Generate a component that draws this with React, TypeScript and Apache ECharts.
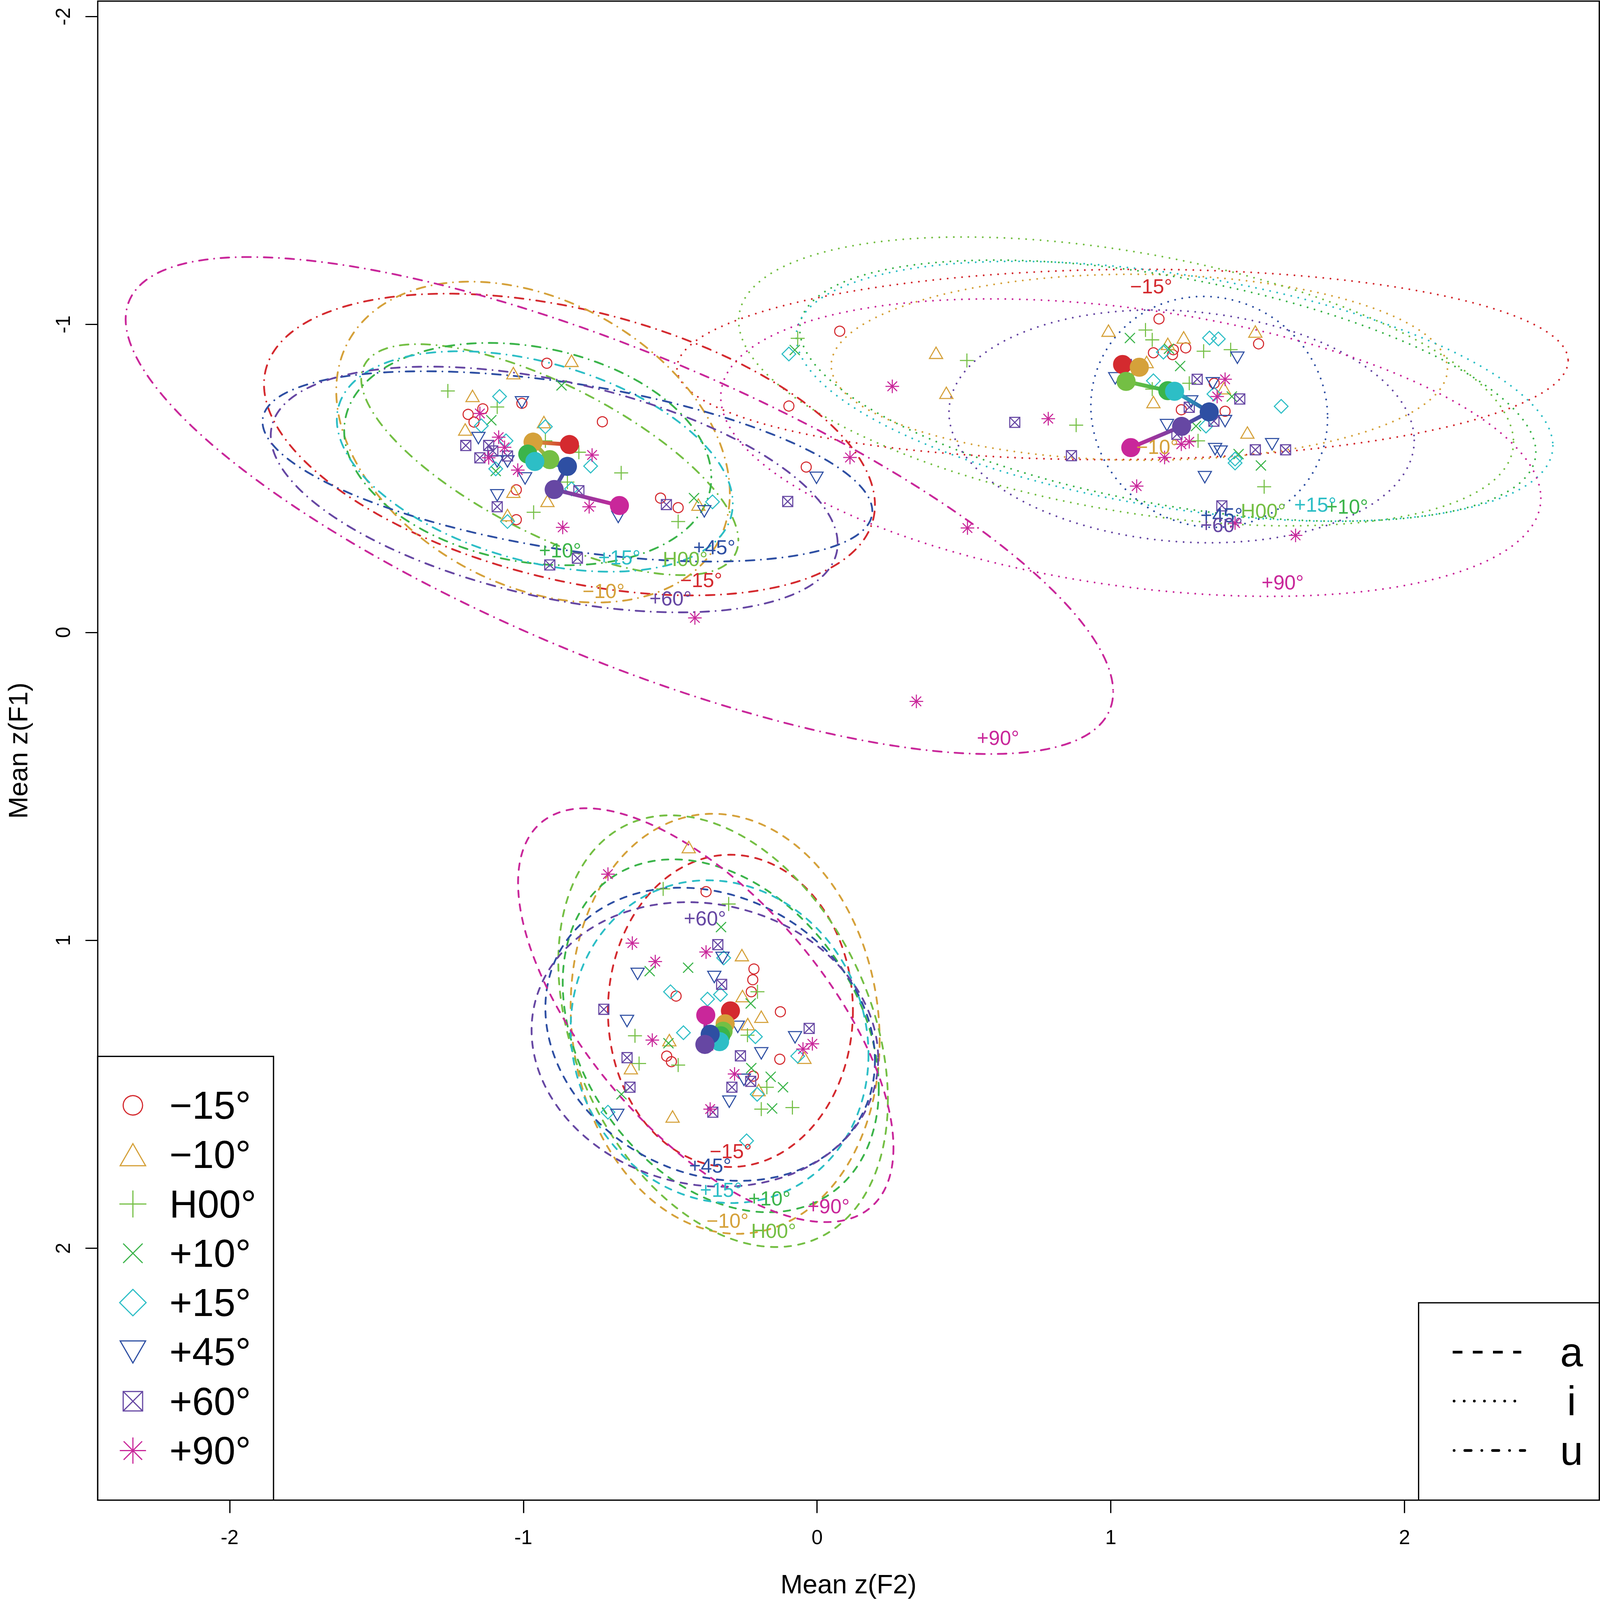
import React, { useEffect, useRef } from 'react';
import * as echarts from 'echarts';

// ---------- categories / styling keys ----------
const conditions = ['−15°', '−10°', 'H00°', '+10°', '+15°', '+45°', '+60°', '+90°'];
const colors = ['#D42A2F', '#D5A13A', '#74BF44', '#3BB44A', '#2DBEC6', '#2E4FA3', '#6647A3', '#C9279A'];
const symbolKinds = ['circle', 'triangle', 'plus', 'cross', 'diamond', 'nabla', 'boxcross', 'asterisk'];
const vowels = ['a', 'i', 'u'];
const xTicks = [-2, -1, 0, 1, 2];
const yTicks = [-2, -1, 0, 1, 2];
const xRange = [-2.449, 2.663];
const yRange = [-2.05, 2.818];

// ---------- individual tokens: vowel a ----------
const aM15 = [[-0.378, 0.842], [-0.215, 1.093], [-0.219, 1.128], [-0.224, 1.167], [-0.48, 1.181], [-0.125, 1.232], [-0.512, 1.376], [-0.496, 1.394], [-0.127, 1.386], [-0.217, 1.441]];
const aM10 = [[-0.437, 0.697], [-0.256, 1.048], [-0.254, 1.181], [-0.19, 1.248], [-0.236, 1.272], [-0.503, 1.324], [-0.634, 1.415], [-0.043, 1.381], [-0.199, 1.486], [-0.492, 1.572]];
const aH00 = [[-0.524, 0.833], [-0.301, 0.882], [-0.203, 1.167], [-0.62, 1.31], [-0.606, 1.4], [-0.473, 1.405], [-0.237, 1.308], [-0.171, 1.477], [-0.19, 1.548], [-0.084, 1.543]];
const aP10 = [[-0.327, 0.957], [-0.439, 1.089], [-0.57, 1.1], [-0.226, 1.205], [-0.506, 1.334], [-0.224, 1.415], [-0.158, 1.443], [-0.116, 1.477], [-0.666, 1.5], [-0.153, 1.546]];
const aP15 = [[-0.499, 1.167], [-0.373, 1.191], [-0.329, 1.176], [-0.455, 1.3], [-0.318, 1.057], [-0.21, 1.313], [-0.066, 1.376], [-0.204, 1.5], [-0.712, 1.558], [-0.24, 1.651]];
const aP45 = [[-0.322, 1.057], [-0.611, 1.109], [-0.35, 1.119], [-0.647, 1.262], [-0.27, 1.281], [-0.19, 1.367], [-0.075, 1.315], [-0.299, 1.524], [-0.68, 1.567], [-0.249, 1.453]];
const aP60 = [[-0.338, 1.014], [-0.325, 1.143], [-0.726, 1.224], [-0.027, 1.286], [-0.647, 1.381], [-0.261, 1.375], [-0.637, 1.477], [-0.226, 1.458], [-0.29, 1.477], [-0.355, 1.558]];
const aP90 = [[-0.712, 0.785], [-0.629, 1.009], [-0.551, 1.069], [-0.378, 1.038], [-0.561, 1.324], [-0.281, 1.434], [-0.364, 1.548], [-0.048, 1.353], [-0.016, 1.336], [-0.355, 1.336]];

// ---------- individual tokens: vowel i ----------
const iM15 = [[1.164, -1.018], [1.145, -0.908], [1.213, -0.918], [1.21, -0.902], [1.255, -0.924], [1.503, -0.937], [1.24, -0.723], [1.389, -0.718], [1.352, -0.809]];
const iM10 = [[0.992, -0.98], [1.194, -0.937], [1.248, -0.958], [1.122, -0.878], [1.145, -0.748], [1.492, -0.977], [1.465, -0.649], [1.385, -0.793], [0.405, -0.908], [0.44, -0.778]];
const iH00 = [[1.118, -0.982], [1.141, -0.95], [1.316, -0.913], [1.408, -0.918], [1.267, -0.809], [1.141, -0.79], [0.882, -0.673], [1.297, -0.622], [1.522, -0.473], [0.51, -0.883], [-0.066, -0.955]];
const iP10 = [[1.065, -0.956], [1.236, -0.865], [1.198, -0.921], [1.412, -0.766], [1.29, -0.67], [1.435, -0.579], [1.511, -0.542], [-0.076, -0.917]];
const iP15 = [[1.336, -0.956], [1.366, -0.953], [1.179, -0.91], [1.145, -0.817], [1.351, -0.774], [1.324, -0.67], [1.423, -0.563], [1.423, -0.55], [1.58, -0.734], [-0.096, -0.904]];
const iP45 = [[1.015, -0.825], [1.431, -0.892], [1.347, -0.809], [1.274, -0.75], [1.191, -0.673], [1.389, -0.686], [1.355, -0.595], [1.374, -0.587], [1.32, -0.504], [1.549, -0.611]];
const iP60 = [[1.053, -0.87], [1.294, -0.822], [1.267, -0.731], [1.439, -0.758], [1.351, -0.686], [1.225, -0.643], [1.492, -0.593], [1.595, -0.593], [0.866, -0.574], [0.673, -0.682], [1.378, -0.411]];
const iP90 = [[1.389, -0.822], [1.362, -0.766], [1.24, -0.611], [1.267, -0.619], [1.183, -0.568], [1.088, -0.475], [1.629, -0.315], [1.423, -0.355], [0.256, -0.799], [0.787, -0.694], [0.512, -0.339]];

// ---------- individual tokens: vowel u ----------
const uM15 = [[-0.92, -0.874], [-1.188, -0.708], [-1.138, -0.726], [-1.168, -0.683], [-1.005, -0.744], [-0.731, -0.684], [-1.024, -0.463], [-1.024, -0.366], [-0.533, -0.436], [-0.473, -0.405], [-0.096, -0.735], [-0.037, -0.537], [0.077, -0.978]];
const uM10 = [[-0.836, -0.882], [-1.034, -0.842], [-1.173, -0.768], [-1.198, -0.659], [-0.93, -0.683], [-1.034, -0.457], [-0.918, -0.427], [-1.054, -0.381], [-0.404, -0.415]];
const uH00 = [[-1.257, -0.784], [-1.089, -0.732], [-0.925, -0.622], [-0.811, -0.585], [-0.667, -0.518], [-0.85, -0.488], [-0.965, -0.39], [-0.473, -0.36]];
const uP10 = [[-1.109, -0.689], [-1.094, -0.524], [-0.87, -0.802], [-0.419, -0.436], [-0.979, -0.582]];
const uP15 = [[-1.081, -0.766], [-0.925, -0.668], [-1.059, -0.622], [-1.143, -0.671], [-0.771, -0.54], [-1.094, -0.531], [-0.836, -0.466], [-1.054, -0.36], [-0.356, -0.424]];
const uP45 = [[-1.005, -0.747], [-1.153, -0.631], [-1.089, -0.555], [-1.054, -0.555], [-0.994, -0.5], [-1.089, -0.445], [-0.677, -0.375], [-0.384, -0.393], [-0.002, -0.502]];
const uP60 = [[-1.196, -0.607], [-1.118, -0.607], [-1.104, -0.589], [-1.148, -0.567], [-1.054, -0.573], [-1.089, -0.408], [-0.811, -0.46], [-0.513, -0.415], [-0.91, -0.219], [-0.816, -0.241], [-0.1, -0.425]];
const uP90 = [[-1.148, -0.711], [-1.084, -0.634], [-1.064, -0.601], [-1.118, -0.567], [-1.019, -0.527], [-0.766, -0.576], [-0.776, -0.408], [-0.866, -0.341], [0.112, -0.568], [0.338, 0.224], [-0.416, -0.047]];

// ---------- condition means (ellipse centres) ----------
const meansA = [[-0.295, 1.229], [-0.313, 1.271], [-0.32, 1.295], [-0.328, 1.31], [-0.332, 1.329], [-0.364, 1.305], [-0.382, 1.338], [-0.379, 1.243]];
const meansI = [[1.04, -0.87], [1.097, -0.861], [1.052, -0.815], [1.194, -0.785], [1.217, -0.783], [1.335, -0.716], [1.241, -0.669], [1.068, -0.6]];
const meansU = [[-0.843, -0.61], [-0.967, -0.618], [-0.91, -0.561], [-0.985, -0.579], [-0.961, -0.555], [-0.85, -0.539], [-0.895, -0.464], [-0.673, -0.412]];

// ---------- ellipse extents: [half-width F2, half-height F1, correlation] ----------
const ellA = [[0.417, 0.507, 0.0], [0.526, 0.682, 0.08], [0.561, 0.701, 0.32], [0.538, 0.573, 0.3], [0.507, 0.524, 0.08], [0.561, 0.476, 0.18], [0.59, 0.462, 0.1], [0.639, 0.672, 0.64]];
const ellI = [[1.517, 0.309, -0.04], [1.049, 0.302, 0.02], [1.319, 0.469, 0.42], [1.253, 0.424, 0.47], [1.288, 0.422, 0.42], [0.403, 0.375, 0.05], [0.792, 0.378, 0.12], [1.396, 0.483, 0.34]];
const ellU = [[1.04, 0.49, 0.4], [0.67, 0.521, 0.32], [0.642, 0.375, 0.7], [0.625, 0.361, 0.21], [0.674, 0.358, 0.38], [1.038, 0.309, 0.47], [0.965, 0.399, 0.44], [1.681, 0.807, 0.75]];

// ---------- ellipse label positions ----------
const labA = [[-0.294, 1.685], [-0.305, 1.911], [-0.148, 1.944], [-0.162, 1.838], [-0.327, 1.81], [-0.364, 1.731], [-0.382, 0.928], [0.039, 1.863]];
const labI = [[1.137, -1.124], [1.158, -0.603], [1.519, -0.394], [1.804, -0.408], [1.696, -0.415], [1.377, -0.381], [1.377, -0.349], [1.585, -0.162]];
const labU = [[-0.395, -0.17], [-0.727, -0.134], [-0.449, -0.238], [-0.875, -0.266], [-0.673, -0.244], [-0.35, -0.276], [-0.499, -0.11], [0.616, 0.342]];

// ---------- layout (designed for 4551 x 4344, scaled to the real viewport) ----------
const REF_W = 4551;
const REF_H = 4344;
const FONT = '"Liberation Sans", Arial, Helvetica, sans-serif';

type Sc = { x: (v: number) => number; y: (v: number) => number; f: (v: number) => number };

function symbolShapes(kind: string, cx: number, cy: number, r: number, color: string, lw: number, z?: number): any[] {
  const zz = z === undefined ? {} : { z };
  const st = { fill: 'none', stroke: color, lineWidth: lw };
  const line = (x1: number, y1: number, x2: number, y2: number) => ({
    type: 'line',
    ...zz,
    shape: { x1, y1, x2, y2 },
    style: { stroke: color, lineWidth: lw },
  });
  switch (kind) {
    case 'circle':
      return [{ type: 'circle', ...zz, shape: { cx, cy, r }, style: st }];
    case 'triangle': {
      const w = 1.31 * r, h = 1.135 * r;
      return [{ type: 'polygon', ...zz, shape: { points: [[cx, cy - h], [cx + w, cy + h], [cx - w, cy + h]] }, style: st }];
    }
    case 'nabla': {
      const w = 1.31 * r, h = 1.135 * r;
      return [{ type: 'polygon', ...zz, shape: { points: [[cx, cy + h], [cx + w, cy - h], [cx - w, cy - h]] }, style: st }];
    }
    case 'plus': {
      const L = 1.39 * r;
      return [line(cx - L, cy, cx + L, cy), line(cx, cy - L, cx, cy + L)];
    }
    case 'cross': {
      const L = r;
      return [line(cx - L, cy - L, cx + L, cy + L), line(cx - L, cy + L, cx + L, cy - L)];
    }
    case 'diamond': {
      const L = 1.36 * r;
      return [{ type: 'polygon', ...zz, shape: { points: [[cx, cy - L], [cx + L, cy], [cx, cy + L], [cx - L, cy]] }, style: st }];
    }
    case 'boxcross': {
      const L = r;
      return [
        { type: 'rect', ...zz, shape: { x: cx - L, y: cy - L, width: 2 * L, height: 2 * L }, style: st },
        line(cx - L, cy - L, cx + L, cy + L),
        line(cx - L, cy + L, cx + L, cy - L),
      ];
    }
    case 'asterisk':
    default: {
      const L = 1.35 * r, D = 0.95 * r;
      return [
        line(cx - L, cy, cx + L, cy),
        line(cx, cy - L, cx, cy + L),
        line(cx - D, cy - D, cx + D, cy + D),
        line(cx - D, cy + D, cx + D, cy - D),
      ];
    }
  }
}

function ellipseSeries(vowel: string, means: number[][], ell: number[][], s: Sc) {
  const dashes: Record<string, number[]> = { a: [18, 20], i: [0.1, 20], u: [0.1, 18, 24, 18] };
  const dash = dashes[vowel].map(s.f);
  return {
    type: 'custom',
    name: 'ellipse-' + vowel,
    coordinateSystem: 'cartesian2d',
    z: 2,
    clip: true,
    silent: true,
    data: means.map((m, i) => [m[0], m[1], ell[i][0], ell[i][1], ell[i][2], i]),
    encode: { x: 0, y: 1 },
    renderItem: (_p: any, api: any) => {
      const cx = api.value(0), cy = api.value(1), X = api.value(2), Y = api.value(3), rho = api.value(4);
      const ci = api.value(5);
      const q = Math.sqrt(1 - rho * rho);
      const pts: number[][] = [];
      const N = 240;
      for (let k = 0; k < N; k++) {
        const t = (k / N) * Math.PI * 2;
        pts.push(api.coord([cx + X * Math.cos(t), cy + Y * (rho * Math.cos(t) + q * Math.sin(t))]));
      }
      return {
        type: 'polygon',
        shape: { points: pts },
        style: { fill: 'none', stroke: colors[ci], lineWidth: s.f(5), lineDash: dash, lineCap: 'round' },
      };
    },
  };
}

function pointSeries(vowel: string, pts: number[][], ci: number, s: Sc) {
  return {
    type: 'custom',
    name: vowel + '-' + conditions[ci],
    coordinateSystem: 'cartesian2d',
    z: 3,
    clip: true,
    silent: true,
    data: pts,
    encode: { x: 0, y: 1 },
    renderItem: (_p: any, api: any) => {
      const p = api.coord([api.value(0), api.value(1)]);
      return { type: 'group', children: symbolShapes(symbolKinds[ci], p[0], p[1], s.f(14), colors[ci], s.f(3)) };
    },
  };
}

function segmentSeries(vowel: string, means: number[][], s: Sc) {
  const segs: number[][] = [];
  for (let i = 0; i < means.length - 1; i++) segs.push([means[i][0], means[i][1], means[i + 1][0], means[i + 1][1], i]);
  return {
    type: 'custom',
    name: 'path-' + vowel,
    coordinateSystem: 'cartesian2d',
    z: 4,
    silent: true,
    data: segs,
    encode: { x: [0, 2], y: [1, 3] },
    renderItem: (_p: any, api: any) => {
      const p0 = api.coord([api.value(0), api.value(1)]);
      const p1 = api.coord([api.value(2), api.value(3)]);
      const ci = api.value(4);
      const grad = new echarts.graphic.LinearGradient(
        p0[0], p0[1], p1[0], p1[1],
        [{ offset: 0, color: colors[ci] }, { offset: 1, color: colors[ci + 1] }],
        true
      );
      return {
        type: 'line',
        shape: { x1: p0[0], y1: p0[1], x2: p1[0], y2: p1[1] },
        style: { stroke: grad, lineWidth: s.f(11), lineCap: 'butt' },
      };
    },
  };
}

function meanSeries(vowel: string, means: number[][], s: Sc) {
  return {
    type: 'custom',
    name: 'mean-' + vowel,
    coordinateSystem: 'cartesian2d',
    z: 5,
    silent: true,
    data: means.map((m, i) => [m[0], m[1], i]),
    encode: { x: 0, y: 1 },
    renderItem: (_p: any, api: any) => {
      const p = api.coord([api.value(0), api.value(1)]);
      return { type: 'circle', shape: { cx: p[0], cy: p[1], r: s.f(26.5) }, style: { fill: colors[api.value(2)] } };
    },
  };
}

function labelSeries(vowel: string, labs: number[][], s: Sc) {
  return {
    type: 'custom',
    name: 'label-' + vowel,
    coordinateSystem: 'cartesian2d',
    z: 6,
    silent: true,
    data: labs.map((l, i) => [l[0], l[1], i]),
    encode: { x: 0, y: 1 },
    renderItem: (_p: any, api: any) => {
      const p = api.coord([api.value(0), api.value(1)]);
      const ci = api.value(2);
      return {
        type: 'text',
        x: p[0],
        y: p[1],
        style: { text: conditions[ci], fill: colors[ci], fontSize: s.f(56), fontFamily: FONT, align: 'center', verticalAlign: 'middle' },
      };
    },
  };
}

function buildLegend(s: Sc): any[] {
  const els: any[] = [];
  els.push({
    type: 'rect', z: 100,
    shape: { x: s.x(278), y: s.y(2868), width: s.x(500), height: s.y(1205) },
    style: { fill: '#fff', stroke: '#000', lineWidth: s.f(3.5) },
  });
  for (let i = 0; i < conditions.length; i++) {
    const cy = s.y(3001 + i * 133.9);
    symbolShapes(symbolKinds[i], s.x(378), cy, s.f(27), colors[i], s.f(3.2), 101).forEach((e) => els.push(e));
    els.push({
      type: 'text', z: 101, x: s.x(482), y: cy,
      style: { text: conditions[i], fill: '#000', fontSize: s.f(108), fontFamily: FONT, align: 'left', verticalAlign: 'middle' },
    });
  }
  // line-type legend
  els.push({
    type: 'rect', z: 100,
    shape: { x: s.x(4035), y: s.y(3537), width: s.x(514), height: s.y(536) },
    style: { fill: '#fff', stroke: '#000', lineWidth: s.f(3.5) },
  });
  const rows = [3671, 3804, 3938];
  const styles = [
    { x1: 4132, x2: 4327, dash: [27, 29], cap: 'butt' },
    { x1: 4136, x2: 4333, dash: [0.1, 28], cap: 'round' },
    { x1: 4136, x2: 4337, dash: [0.1, 29.7, 17.5, 29.7], cap: 'round' },
  ];
  for (let k = 0; k < 3; k++) {
    els.push({
      type: 'line', z: 101,
      shape: { x1: s.x(styles[k].x1), y1: s.y(rows[k]), x2: s.x(styles[k].x2), y2: s.y(rows[k]) },
      style: { stroke: '#000', lineWidth: s.f(7.5), lineDash: styles[k].dash.map(s.f), lineCap: styles[k].cap },
    });
    els.push({
      type: 'text', z: 101, x: s.x(4470), y: s.y(rows[k]),
      style: { text: vowels[k], fill: '#000', fontSize: s.f(114), fontFamily: FONT, align: 'center', verticalAlign: 'middle' },
    });
  }
  return els;
}

function buildOption(vw: number, vh: number) {
  const kx = vw / REF_W;
  const ky = vh / REF_H;
  const kf = (kx + ky) / 2;
  const s: Sc = { x: (v) => v * kx, y: (v) => v * ky, f: (v) => v * kf };

  const ptsA = [aM15, aM10, aH00, aP10, aP15, aP45, aP60, aP90];
  const ptsI = [iM15, iM10, iH00, iP10, iP15, iP45, iP60, iP90];
  const ptsU = [uM15, uM10, uH00, uP10, uP15, uP45, uP60, uP90];
  const series: any[] = [
    ellipseSeries('a', meansA, ellA, s),
    ellipseSeries('i', meansI, ellI, s),
    ellipseSeries('u', meansU, ellU, s),
  ];
  [ptsA, ptsI, ptsU].forEach((group, v) => group.forEach((pts, ci) => series.push(pointSeries(vowels[v], pts, ci, s))));
  series.push(segmentSeries('a', meansA, s), segmentSeries('i', meansI, s), segmentSeries('u', meansU, s));
  series.push(meanSeries('a', meansA, s), meanSeries('i', meansI, s), meanSeries('u', meansU, s));
  series.push(labelSeries('a', labA, s), labelSeries('i', labI, s), labelSeries('u', labU, s));

  const axisCommon = {
    type: 'value',
    nameLocation: 'middle',
    axisLine: { show: false, onZero: false },
    splitLine: { show: false },
  };
  return {
    animation: false,
    backgroundColor: '#fff',
    textStyle: { fontFamily: FONT },
    grid: {
      left: s.x(278), top: s.y(3), right: s.x(2), bottom: s.y(271),
      show: true, borderColor: '#000', borderWidth: s.f(3.5), backgroundColor: 'transparent',
      containLabel: false, outerBoundsMode: 'none',
    },
    xAxis: {
      ...axisCommon,
      min: xRange[0],
      max: xRange[1],
      name: 'Mean z(F2)',
      nameGap: s.y(191),
      nameTextStyle: { fontSize: s.f(74), color: '#000', fontFamily: FONT },
      axisTick: { show: true, length: s.y(35), lineStyle: { color: '#000', width: s.f(3.5) }, customValues: xTicks },
      axisLabel: { customValues: xTicks, fontSize: s.f(56), color: '#000', margin: s.y(73), fontFamily: FONT, formatter: (v: number) => String(v) },
    },
    yAxis: {
      ...axisCommon,
      inverse: true,
      min: yRange[0],
      max: yRange[1],
      name: 'Mean z(F1)',
      nameRotate: 90,
      nameGap: s.x(189),
      nameTextStyle: { fontSize: s.f(74), color: '#000', fontFamily: FONT },
      axisTick: { show: true, length: s.x(35), lineStyle: { color: '#000', width: s.f(3.5) }, customValues: yTicks },
      axisLabel: { customValues: yTicks, rotate: 90, fontSize: s.f(56), color: '#000', margin: s.x(70), fontFamily: FONT, formatter: (v: number) => String(v) },
    },
    graphic: { elements: buildLegend(s) },
    series,
  };
}

export default function App() {
  const ref = useRef<HTMLDivElement>(null);
  useEffect(() => {
    const el = ref.current;
    if (!el) return;
    const vw = window.innerWidth || REF_W;
    const vh = window.innerHeight || REF_H;
    el.style.width = vw + 'px';
    el.style.height = vh + 'px';
    const chart = echarts.init(el, null, { renderer: 'svg', width: vw, height: vh });
    chart.setOption(buildOption(vw, vh) as any);
    return () => chart.dispose();
  }, []);
  return (
    <div
      ref={ref}
      style={{ position: 'fixed', left: 0, top: 0, width: REF_W, height: REF_H, background: '#fff', overflow: 'hidden' }}
    />
  );
}
